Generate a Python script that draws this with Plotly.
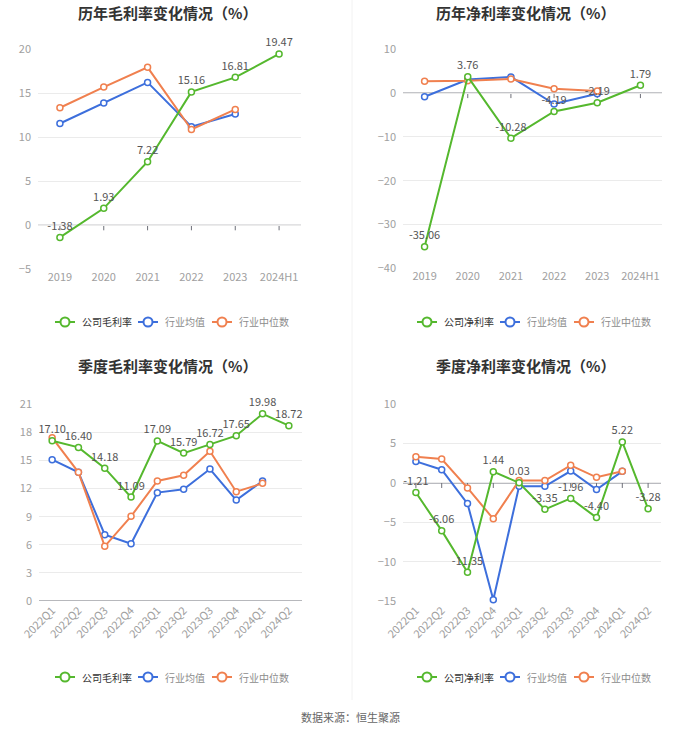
import plotly.graph_objects as go

# ---------------- data ----------------
years = ["2019", "2020", "2021", "2022", "2023", "2024H1"]
year_gross_company = [-1.38, 1.93, 7.22, 15.16, 16.81, 19.47]
year_gross_mean = [11.57, 13.89, 16.24, 11.2, 12.64]
year_gross_median = [13.36, 15.71, 17.95, 10.89, 13.17]

year_net_company = [-35.06, 3.76, -10.28, -4.19, -2.19, 1.79]
year_net_mean = [-0.83, 3.1, 3.7, -2.5, -0.15]
year_net_median = [2.7, 2.8, 3.2, 1.0, 0.5]

quarters = ["2022Q1", "2022Q2", "2022Q3", "2022Q4", "2023Q1", "2023Q2",
            "2023Q3", "2023Q4", "2024Q1", "2024Q2"]
q_gross_company = [17.10, 16.40, 14.18, 11.09, 17.09, 15.79, 16.72, 17.65, 19.98, 18.72]
q_gross_mean = [15.09, 13.74, 7.08, 6.12, 11.57, 11.92, 14.09, 10.78, 12.81]
q_gross_median = [17.44, 13.74, 5.84, 9.04, 12.81, 13.42, 15.98, 11.67, 12.56]

q_net_company = [-1.21, -6.06, -11.35, 1.44, 0.03, -3.35, -1.96, -4.40, 5.22, -3.28]
q_net_mean = [2.74, 1.69, -2.62, -14.85, -0.42, -0.42, 1.52, -0.84, 1.48]
q_net_median = [3.33, 3.04, -0.63, -4.56, 0.3, 0.3, 2.24, 0.72, 1.48]

titles = ["历年毛利率变化情况（%）", "历年净利率变化情况（%）",
          "季度毛利率变化情况（%）", "季度净利率变化情况（%）"]
company_names = ["公司毛利率", "公司净利率", "公司毛利率", "公司净利率"]
mean_name = "行业均值"
median_name = "行业中位数"
source_text = "数据来源：恒生聚源"

# ---------------- style ----------------
GREEN = "#55b82e"
BLUE = "#3d6fdc"
ORANGE = "#f0804f"
FONT = "Noto Sans CJK SC"
W, H = 700, 734


def px(x):
    return x / W


def py(y):
    return 1 - y / H


panels = [
    dict(cats=years, comp=year_gross_company, mean=year_gross_mean, med=year_gross_median,
         xd=[px(38), px(301)], yd=[py(269.3), py(49.3)], rng=[-5, 20], dt=5, angle=0),
    dict(cats=years, comp=year_net_company, mean=year_net_mean, med=year_net_median,
         xd=[px(403), px(662)], yd=[py(268.3), py(49.3)], rng=[-40, 10], dt=10, angle=0),
    dict(cats=quarters, comp=q_gross_company, mean=q_gross_mean, med=q_gross_median,
         xd=[px(39), px(302)], yd=[py(601), py(404.3)], rng=[0, 21], dt=3, angle=-45),
    dict(cats=quarters, comp=q_net_company, mean=q_net_mean, med=q_net_median,
         xd=[px(403), px(661)], yd=[py(601), py(404.3)], rng=[-15, 10], dt=5, angle=-45),
]
title_pos = [(167, 12), (525, 12), (167, 366), (525, 366)]
legend_start = [(55, 322), (417, 322), (55, 677), (417, 677)]
legend_icon_off = [0, 83, 157]
legend_text_off = [25, 108, 182]

fig = go.Figure()
shapes = []
annotations = []
traces = []

for i, p in enumerate(panels):
    n = i + 1
    xa = "x" if n == 1 else f"x{n}"
    ya = "y" if n == 1 else f"y{n}"
    cats = p["cats"]
    marker_common = dict(symbol="circle", size=6, color="white")
    traces.append(go.Scatter(
        x=cats[:len(p["mean"])], y=p["mean"], mode="lines+markers", name=mean_name,
        line=dict(color=BLUE, width=2),
        marker=dict(**marker_common, line=dict(color=BLUE, width=1.5)),
        xaxis=xa, yaxis=ya, cliponaxis=False, showlegend=False))
    traces.append(go.Scatter(
        x=cats[:len(p["med"])], y=p["med"], mode="lines+markers", name=median_name,
        line=dict(color=ORANGE, width=2),
        marker=dict(**marker_common, line=dict(color=ORANGE, width=1.5)),
        xaxis=xa, yaxis=ya, cliponaxis=False, showlegend=False))
    traces.append(go.Scatter(
        x=cats, y=p["comp"], mode="lines+markers+text", name=company_names[i],
        text=[f"{v:.2f}" for v in p["comp"]], textposition="top center",
        textfont=dict(family=FONT, size=11, color="#555555"),
        line=dict(color=GREEN, width=2),
        marker=dict(**marker_common, line=dict(color=GREEN, width=1.5)),
        xaxis=xa, yaxis=ya, cliponaxis=False, showlegend=False))

    xkey = "xaxis" if n == 1 else f"xaxis{n}"
    ykey = "yaxis" if n == 1 else f"yaxis{n}"
    fig.layout[xkey] = dict(
        domain=p["xd"], anchor=ya, type="category", categoryorder="array",
        categoryarray=cats, range=[-0.5, len(cats) - 0.5], showgrid=False,
        showline=False, zeroline=False, ticks="", tickangle=p["angle"],
        tickfont=dict(family=FONT, size=11, color="#a0a0a0"), fixedrange=True,
        automargin=False)
    fig.layout[ykey] = dict(
        domain=p["yd"], anchor=xa, range=p["rng"], dtick=p["dt"], tick0=0,
        showgrid=True, gridcolor="#ebebeb", gridwidth=1, zeroline=False,
        showline=False, ticks="", ticklabelstandoff=6,
        tickfont=dict(family=FONT, size=11, color="#a0a0a0"), fixedrange=True,
        automargin=False)

    # zero axis line with ticks at category centres
    shapes.append(dict(type="line", xref=f"{xa} domain", yref=ya, x0=0, x1=1, y0=0, y1=0,
                       line=dict(color="#6e7079", width=1), layer="below"))
    for k in range(len(cats)):
        shapes.append(dict(type="line", xref=xa, yref=ya, x0=k, x1=k,
                           ysizemode="pixel", yanchor=0, y0=0, y1=-5,
                           line=dict(color="#6e7079", width=1), layer="below"))

    tx, ty = title_pos[i]
    annotations.append(dict(text=f"<b>{titles[i]}</b>", x=px(tx), y=py(ty),
                            xref="paper", yref="paper", showarrow=False,
                            xanchor="center", yanchor="middle",
                            font=dict(family=FONT, size=15, color="#333333")))

    # manual legend
    lx, ly = legend_start[i]
    items = [(company_names[i], GREEN, "#333333"), (mean_name, BLUE, "#8c8c8c"),
             (median_name, ORANGE, "#8c8c8c")]
    for j, (name, col, tcol) in enumerate(items):
        ix = lx + legend_icon_off[j]
        shapes.append(dict(type="line", xref="paper", yref="paper",
                           x0=px(ix), x1=px(ix + 20), y0=py(ly), y1=py(ly),
                           line=dict(color=col, width=2)))
        shapes.append(dict(type="circle", xref="paper", yref="paper",
                           x0=px(ix + 5.5), x1=px(ix + 14.5), y0=py(ly + 4.5), y1=py(ly - 4.5),
                           fillcolor="white", line=dict(color=col, width=2)))
        annotations.append(dict(text=name, x=px(lx + legend_text_off[j]), y=py(ly),
                                xref="paper", yref="paper", showarrow=False,
                                xanchor="left", yanchor="middle",
                                font=dict(family=FONT, size=10, color=tcol)))

for tr in traces:
    fig.add_trace(tr)

shapes.append(dict(type="line", xref="paper", yref="paper", x0=px(352), x1=px(352),
                   y0=py(700), y1=1, line=dict(color="#f2f2f2", width=1)))

annotations.append(dict(text=source_text, x=0.5, y=py(717), xref="paper",
                        yref="paper", showarrow=False, xanchor="center", yanchor="middle",
                        font=dict(family=FONT, size=11, color="#666666")))

fig.update_layout(width=W, height=H,
                  margin=dict(l=0, r=0, t=0, b=0, autoexpand=False),
                  paper_bgcolor="white", plot_bgcolor="white",
                  shapes=shapes, annotations=annotations, showlegend=False,
                  hovermode=False, font=dict(family=FONT))

fig.write_html("out.html", config={"displayModeBar": False},
               post_script="document.body.style.margin='0';document.body.style.padding='0';")
